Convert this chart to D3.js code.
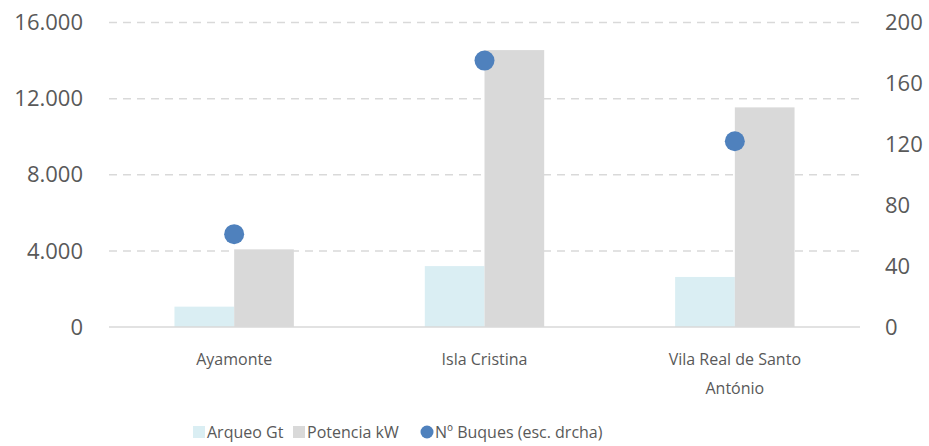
<!DOCTYPE html>
<html>
<head>
<meta charset="utf-8">
<script src="https://cdn.jsdelivr.net/npm/d3@7"></script>
<style>
  body { margin: 0; background: #fff; }
  text { font-family: "Open Sans", sans-serif; fill: #595959; }
</style>
</head>
<body>
<svg width="929" height="446"></svg>
<script>
var categories = ["Ayamonte", "Isla Cristina", "Vila Real de Santo António"];
var arqueo = [1070, 3200, 2630];
var potencia = [4080, 14550, 11540];
var buques = [61, 175, 122];
var leftTicks = [0, 4000, 8000, 12000, 16000];
var rightTicks = [0, 40, 80, 120, 160, 200];

var svg = d3.select("svg");
var plotLeft = 109, plotRight = 860, plotTop = 22.5, plotBottom = 327;

var x = d3.scaleBand().domain(categories).range([plotLeft, plotRight]);
var y = d3.scaleLinear().domain([0, 16000]).range([plotBottom, plotTop]);
var y2 = d3.scaleLinear().domain([0, 200]).range([plotBottom, plotTop]);
var barW = 59.7;

var fmt = function(d) { return d3.format(",")(d).replace(/,/g, "."); };

// gridlines
svg.append("g").selectAll("line")
  .data(leftTicks.filter(function(d) { return d > 0; }))
  .enter().append("line")
    .attr("x1", plotLeft).attr("x2", plotRight)
    .attr("y1", function(d) { return y(d); })
    .attr("y2", function(d) { return y(d); })
    .style("stroke", "#d9d9d9")
    .style("stroke-width", 1.5)
    .style("stroke-dasharray", "8,6");

// bars
var g = svg.append("g");
categories.forEach(function(c, i) {
  var cx = x(c) + x.bandwidth() / 2;
  g.append("rect")
    .attr("x", cx - barW).attr("width", barW)
    .attr("y", y(arqueo[i])).attr("height", plotBottom - y(arqueo[i]))
    .attr("fill", "#daeef3");
  g.append("rect")
    .attr("x", cx).attr("width", barW)
    .attr("y", y(potencia[i])).attr("height", plotBottom - y(potencia[i]))
    .attr("fill", "#d9d9d9");
});

// baseline
svg.append("line")
  .attr("x1", plotLeft).attr("x2", plotRight)
  .attr("y1", plotBottom).attr("y2", plotBottom)
  .style("stroke", "#d9d9d9").style("stroke-width", 1.5);

// dots
svg.append("g").selectAll("circle")
  .data(buques).enter().append("circle")
    .attr("cx", function(d, i) { return x(categories[i]) + x.bandwidth() / 2; })
    .attr("cy", function(d) { return y2(d); })
    .attr("r", 10)
    .attr("fill", "#4f81bd");

// left axis labels
svg.append("g").selectAll("text")
  .data(leftTicks).enter().append("text")
    .attr("x", 83)
    .attr("y", function(d) { return y(d); })
    .attr("dy", "0.35em")
    .attr("text-anchor", "end")
    .style("font-size", "22px")
    .text(fmt);

// right axis labels
svg.append("g").selectAll("text")
  .data(rightTicks).enter().append("text")
    .attr("x", 885)
    .attr("y", function(d) { return y2(d); })
    .attr("dy", "0.35em")
    .style("font-size", "22px")
    .text(function(d) { return d; });

// category labels
var catLines = [["Ayamonte"], ["Isla Cristina"], ["Vila Real de Santo", "António"]];
categories.forEach(function(c, i) {
  var t = svg.append("text")
    .attr("x", x(c) + x.bandwidth() / 2)
    .attr("y", 365)
    .attr("text-anchor", "middle")
    .style("font-size", "16px");
  catLines[i].forEach(function(l, j) {
    t.append("tspan")
      .attr("x", x(c) + x.bandwidth() / 2)
      .attr("dy", j === 0 ? 0 : 29)
      .text(l);
  });
});

// legend
var legend = svg.append("g");
var items = [
  {label: "Arqueo Gt", color: "#daeef3", type: "rect", x: 193},
  {label: "Potencia kW", color: "#d9d9d9", type: "rect", x: 293},
  {label: "Nº Buques (esc. drcha)", color: "#4f81bd", type: "circle", x: 421}
];
items.forEach(function(it) {
  if (it.type === "rect") {
    legend.append("rect")
      .attr("x", it.x).attr("y", 426).attr("width", 12).attr("height", 12)
      .attr("fill", it.color);
  } else {
    legend.append("circle")
      .attr("cx", it.x + 6).attr("cy", 432).attr("r", 6.5)
      .attr("fill", it.color);
  }
  legend.append("text")
    .attr("x", it.x + 14).attr("y", 432)
    .attr("dy", "0.35em")
    .style("font-size", "16px")
    .text(it.label);
});
</script>
</body>
</html>
